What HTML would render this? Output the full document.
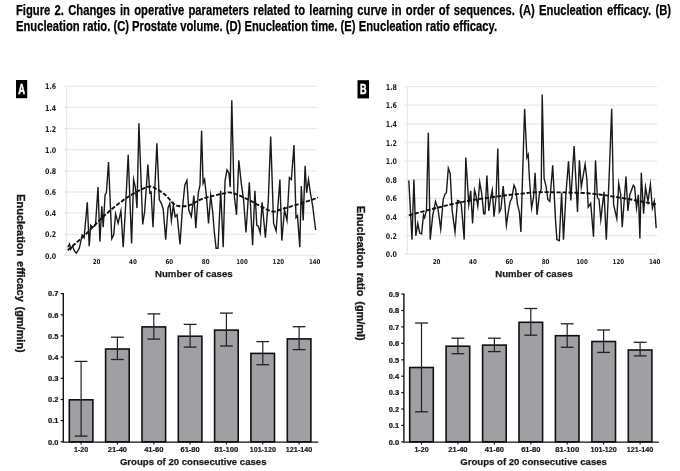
<!DOCTYPE html>
<html><head><meta charset="utf-8"><style>
html,body{margin:0;padding:0;background:#fff;width:680px;height:471px;overflow:hidden;}
.cap{position:absolute;left:16.4px;font:bold 15px/16px "Liberation Sans",sans-serif;color:#000;white-space:nowrap;transform-origin:0 0;-webkit-text-stroke:0.25px #000;}
#c1{top:2px;width:874.4964916839916px;text-align:justify;text-align-last:justify;transform:scaleX(0.7490024330900243);}
#c2{top:18px;transform:scaleX(0.7490024330900243);}
svg{position:absolute;left:0;top:0;}
svg text{font-family:"Liberation Sans",sans-serif;font-weight:bold;fill:#1a1a1a;}
.yl{font-size:7.9px;font-family:'DejaVu Sans',sans-serif !important;}
.xl{font-size:6.6px;font-family:'DejaVu Sans',sans-serif !important;}
.bl{font-size:6.6px;stroke:#1a1a1a;stroke-width:0.22px;}
.bx{font-size:6.9px;stroke:#1a1a1a;stroke-width:0.2px;}
.tt{font-size:9.9px;stroke:#1a1a1a;stroke-width:0.25px;}
.yt{font-size:11.8px;word-spacing:2px;stroke:#1a1a1a;stroke-width:0.35px;}
.pl{font-size:14.2px;fill:#fff !important;stroke:#fff;stroke-width:0.5px;}
</style></head><body>
<div class="cap" id="c1">Figure 2. Changes in operative parameters related to learning curve in order of sequences. (A) Enucleation efficacy. (B)</div>
<div class="cap" id="c2">Enucleation ratio. (C) Prostate volume. (D) Enucleation time. (E) Enucleation ratio efficacy.</div>
<svg width="680" height="471" viewBox="0 0 680 471">
<line x1="64" y1="255.4" x2="317.2" y2="255.4" stroke="#eaeaea" stroke-width="1.3"/>
<text x="56.2" y="258.5" class="yl" text-anchor="end" textLength="11.2" lengthAdjust="spacingAndGlyphs">0.0</text>
<line x1="64" y1="234.3" x2="317.2" y2="234.3" stroke="#eaeaea" stroke-width="1.3"/>
<text x="56.2" y="237.4" class="yl" text-anchor="end" textLength="11.2" lengthAdjust="spacingAndGlyphs">0.2</text>
<line x1="64" y1="213.1" x2="317.2" y2="213.1" stroke="#eaeaea" stroke-width="1.3"/>
<text x="56.2" y="216.2" class="yl" text-anchor="end" textLength="11.2" lengthAdjust="spacingAndGlyphs">0.4</text>
<line x1="64" y1="192.0" x2="317.2" y2="192.0" stroke="#eaeaea" stroke-width="1.3"/>
<text x="56.2" y="195.1" class="yl" text-anchor="end" textLength="11.2" lengthAdjust="spacingAndGlyphs">0.6</text>
<line x1="64" y1="170.8" x2="317.2" y2="170.8" stroke="#eaeaea" stroke-width="1.3"/>
<text x="56.2" y="173.9" class="yl" text-anchor="end" textLength="11.2" lengthAdjust="spacingAndGlyphs">0.8</text>
<line x1="64" y1="149.7" x2="317.2" y2="149.7" stroke="#eaeaea" stroke-width="1.3"/>
<text x="56.2" y="152.8" class="yl" text-anchor="end" textLength="11.2" lengthAdjust="spacingAndGlyphs">1.0</text>
<line x1="64" y1="128.6" x2="317.2" y2="128.6" stroke="#eaeaea" stroke-width="1.3"/>
<text x="56.2" y="131.7" class="yl" text-anchor="end" textLength="11.2" lengthAdjust="spacingAndGlyphs">1.2</text>
<line x1="64" y1="107.4" x2="317.2" y2="107.4" stroke="#eaeaea" stroke-width="1.3"/>
<text x="56.2" y="110.5" class="yl" text-anchor="end" textLength="11.2" lengthAdjust="spacingAndGlyphs">1.4</text>
<line x1="64" y1="86.3" x2="317.2" y2="86.3" stroke="#eaeaea" stroke-width="1.3"/>
<text x="56.2" y="89.4" class="yl" text-anchor="end" textLength="11.2" lengthAdjust="spacingAndGlyphs">1.6</text>
<line x1="66.6" y1="86.3" x2="66.6" y2="255.4" stroke="#eaeaea" stroke-width="1.3"/>
<text x="96.6" y="264.1" class="xl" text-anchor="middle" textLength="7.8" lengthAdjust="spacingAndGlyphs">20</text>
<text x="132.9" y="264.1" class="xl" text-anchor="middle" textLength="7.8" lengthAdjust="spacingAndGlyphs">40</text>
<text x="169.3" y="264.1" class="xl" text-anchor="middle" textLength="7.8" lengthAdjust="spacingAndGlyphs">60</text>
<text x="205.7" y="264.1" class="xl" text-anchor="middle" textLength="7.8" lengthAdjust="spacingAndGlyphs">80</text>
<text x="242.0" y="264.1" class="xl" text-anchor="middle" textLength="11.6" lengthAdjust="spacingAndGlyphs">100</text>
<text x="278.4" y="264.1" class="xl" text-anchor="middle" textLength="11.6" lengthAdjust="spacingAndGlyphs">120</text>
<text x="314.7" y="264.1" class="xl" text-anchor="middle" textLength="11.6" lengthAdjust="spacingAndGlyphs">140</text>
<polyline points="67.8,247.3 69.5,244.0 70.7,249.2 72.5,246.0 74.5,251.0 76.4,253.0 79.3,248.2 82.2,234.9 84.1,237.7 87.3,202.4 89.2,246.3 90.7,225.3 92.7,227.2 95.5,225.3 98.0,187.1 99.9,241.6 101.8,206.2 103.2,227.2 105.1,194.7 106.4,192.8 108.5,162.0 111.8,238.7 113.7,234.9 115.6,213.9 118.1,223.4 120.9,211.0 123.2,247.3 125.5,208.0 128.2,154.7 131.6,243.5 133.6,179.5 135.3,187.0 137.0,208.1 138.9,123.2 142.7,224.4 144.6,212.0 147.9,164.6 149.8,192.8 151.1,192.0 153.0,227.2 156.9,143.2 159.3,199.5 161.3,203.3 163.2,209.0 165.7,239.6 168.0,208.1 169.8,203.3 171.4,220.5 173.3,205.3 175.2,216.7 177.1,214.8 180.0,244.4 182.3,210.0 184.8,185.2 186.9,180.4 188.8,210.0 191.3,216.7 193.9,195.7 195.8,228.2 198.3,192.8 200.0,185.2 201.6,130.8 203.1,183.3 204.6,179.5 206.5,196.7 208.5,223.4 210.7,195.7 212.7,212.0 214.2,231.0 216.1,248.2 218.0,248.2 220.7,190.9 223.2,247.3 225.0,181.0 227.0,170.0 228.9,173.0 230.2,187.1 231.8,100.2 234.0,192.8 236.5,214.8 238.8,160.4 241.3,183.3 243.6,200.0 246.0,232.5 249.3,182.3 252.6,245.3 254.9,190.9 256.8,225.3 258.3,226.2 260.2,232.9 262.1,202.4 265.4,237.7 268.2,202.4 270.7,136.5 273.6,223.4 276.1,231.0 279.9,179.5 281.8,240.6 284.5,210.0 287.0,220.5 289.4,177.5 291.4,179.5 294.0,145.1 296.0,217.6 297.5,215.7 299.8,247.2 301.3,186.1 303.2,220.5 305.1,165.7 306.6,192.8 308.5,179.5 310.4,192.8 312.7,206.2 315.6,230.0" fill="none" stroke="#1a1a1a" stroke-width="1.4" stroke-linejoin="miter" stroke-miterlimit="10"/>
<polyline points="67.8,250.2 69.1,249.1 70.8,247.6 72.9,245.8 75.1,243.8 77.6,241.6 80.1,239.4 82.6,237.1 85.0,234.9 87.4,232.6 89.8,230.2 92.2,227.7 94.7,225.1 97.2,222.5 99.8,219.9 102.4,217.4 105.0,215.0 107.7,212.7 110.4,210.3 113.2,208.0 116.0,205.7 118.8,203.5 121.6,201.4 124.3,199.4 127.0,197.6 129.7,195.9 132.5,194.2 135.3,192.5 138.1,191.0 140.8,189.7 143.3,188.5 145.6,187.6 147.6,186.9 149.3,186.5 150.6,186.5 151.8,186.6 152.8,187.0 153.7,187.4 154.6,188.0 155.5,188.6 156.5,189.1 157.6,189.6 158.7,190.2 159.8,190.9 160.9,191.6 162.0,192.3 163.1,193.1 164.2,194.0 165.3,194.9 166.4,195.9 167.5,197.1 168.7,198.4 169.8,199.7 170.9,201.0 172.0,202.2 173.1,203.3 174.1,204.1 175.1,204.7 176.0,205.2 176.8,205.6 177.7,205.9 178.5,206.0 179.3,206.2 180.2,206.2 181.2,206.3 182.2,206.3 183.2,206.3 184.2,206.3 185.2,206.2 186.3,206.0 187.5,205.8 188.7,205.4 190.0,205.0 191.4,204.4 192.8,203.7 194.3,202.9 195.9,202.0 197.6,201.1 199.3,200.2 201.1,199.4 203.1,198.6 205.3,197.9 207.7,197.2 210.2,196.5 212.9,195.9 215.5,195.3 218.0,194.7 220.2,194.2 222.2,193.8 223.8,193.4 225.1,193.1 226.2,192.8 227.2,192.6 228.1,192.4 229.2,192.4 230.3,192.5 231.8,192.8 233.5,193.3 235.5,193.9 237.6,194.8 239.8,195.7 241.9,196.7 244.1,197.7 246.1,198.6 248.0,199.5 249.7,200.3 251.3,201.2 252.8,202.0 254.2,202.8 255.6,203.6 257.1,204.5 258.5,205.2 260.0,206.0 261.6,206.8 263.2,207.6 264.8,208.5 266.4,209.3 268.1,210.1 269.6,210.7 271.2,211.2 272.6,211.5 273.9,211.6 275.0,211.5 276.0,211.3 277.0,211.0 278.0,210.5 279.2,210.0 280.6,209.5 282.2,209.0 284.1,208.4 286.4,207.8 288.8,207.1 291.3,206.3 293.9,205.6 296.5,204.8 299.0,204.0 301.3,203.3 303.6,202.5 306.0,201.7 308.5,200.9 310.8,200.1 313.1,199.3 315.1,198.6 316.7,198.0 318.0,197.6" fill="none" stroke="#111" stroke-width="1.9" stroke-dasharray="4.3 1.7"/>
<line x1="404.4" y1="254.2" x2="657.1" y2="254.2" stroke="#eaeaea" stroke-width="1.3"/>
<text x="397.0" y="257.3" class="yl" text-anchor="end" textLength="11.2" lengthAdjust="spacingAndGlyphs">0.0</text>
<line x1="404.4" y1="235.6" x2="657.1" y2="235.6" stroke="#eaeaea" stroke-width="1.3"/>
<text x="397.0" y="238.7" class="yl" text-anchor="end" textLength="11.2" lengthAdjust="spacingAndGlyphs">0.2</text>
<line x1="404.4" y1="217.0" x2="657.1" y2="217.0" stroke="#eaeaea" stroke-width="1.3"/>
<text x="397.0" y="220.1" class="yl" text-anchor="end" textLength="11.2" lengthAdjust="spacingAndGlyphs">0.4</text>
<line x1="404.4" y1="198.3" x2="657.1" y2="198.3" stroke="#eaeaea" stroke-width="1.3"/>
<text x="397.0" y="201.4" class="yl" text-anchor="end" textLength="11.2" lengthAdjust="spacingAndGlyphs">0.6</text>
<line x1="404.4" y1="179.7" x2="657.1" y2="179.7" stroke="#eaeaea" stroke-width="1.3"/>
<text x="397.0" y="182.8" class="yl" text-anchor="end" textLength="11.2" lengthAdjust="spacingAndGlyphs">0.8</text>
<line x1="404.4" y1="161.1" x2="657.1" y2="161.1" stroke="#eaeaea" stroke-width="1.3"/>
<text x="397.0" y="164.2" class="yl" text-anchor="end" textLength="11.2" lengthAdjust="spacingAndGlyphs">1.0</text>
<line x1="404.4" y1="142.5" x2="657.1" y2="142.5" stroke="#eaeaea" stroke-width="1.3"/>
<text x="397.0" y="145.6" class="yl" text-anchor="end" textLength="11.2" lengthAdjust="spacingAndGlyphs">1.2</text>
<line x1="404.4" y1="123.8" x2="657.1" y2="123.8" stroke="#eaeaea" stroke-width="1.3"/>
<text x="397.0" y="126.9" class="yl" text-anchor="end" textLength="11.2" lengthAdjust="spacingAndGlyphs">1.4</text>
<line x1="404.4" y1="105.2" x2="657.1" y2="105.2" stroke="#eaeaea" stroke-width="1.3"/>
<text x="397.0" y="108.3" class="yl" text-anchor="end" textLength="11.2" lengthAdjust="spacingAndGlyphs">1.6</text>
<line x1="404.4" y1="86.6" x2="657.1" y2="86.6" stroke="#eaeaea" stroke-width="1.3"/>
<text x="397.0" y="89.7" class="yl" text-anchor="end" textLength="11.2" lengthAdjust="spacingAndGlyphs">1.8</text>
<line x1="407.4" y1="86.6" x2="407.4" y2="254.2" stroke="#eaeaea" stroke-width="1.3"/>
<text x="436.6" y="264.1" class="xl" text-anchor="middle" textLength="7.8" lengthAdjust="spacingAndGlyphs">20</text>
<text x="472.9" y="264.1" class="xl" text-anchor="middle" textLength="7.8" lengthAdjust="spacingAndGlyphs">40</text>
<text x="509.3" y="264.1" class="xl" text-anchor="middle" textLength="7.8" lengthAdjust="spacingAndGlyphs">60</text>
<text x="545.6" y="264.1" class="xl" text-anchor="middle" textLength="7.8" lengthAdjust="spacingAndGlyphs">80</text>
<text x="582.0" y="264.1" class="xl" text-anchor="middle" textLength="11.6" lengthAdjust="spacingAndGlyphs">100</text>
<text x="618.4" y="264.1" class="xl" text-anchor="middle" textLength="11.6" lengthAdjust="spacingAndGlyphs">120</text>
<text x="654.7" y="264.1" class="xl" text-anchor="middle" textLength="11.6" lengthAdjust="spacingAndGlyphs">140</text>
<polyline points="408.8,180.4 412.0,239.6 413.9,179.5 415.8,235.8 417.8,223.4 419.7,233.0 421.6,234.0 423.5,214.8 424.6,217.7 426.5,210.0 428.3,132.7 430.2,239.6 432.7,215.7 435.5,201.4 438.0,209.0 440.7,229.1 443.2,199.5 445.1,193.8 446.4,192.8 448.3,168.1 450.2,173.7 452.1,210.0 455.0,232.0 457.5,200.5 459.8,201.4 461.3,204.3 464.2,239.6 465.8,157.6 468.8,204.3 470.7,190.9 472.6,223.4 474.5,190.0 475.8,194.7 477.8,206.2 479.7,182.3 481.6,192.8 483.7,213.9 485.0,213.9 486.9,175.6 488.8,211.0 490.7,197.6 492.3,190.0 494.0,216.7 496.1,196.7 497.8,148.6 499.3,212.0 500.9,209.0 503.2,186.1 504.6,200.5 506.4,225.3 508.3,212.0 510.2,201.4 511.8,198.6 514.0,185.2 515.6,189.0 517.5,204.3 519.4,212.0 520.9,232.0 524.6,108.8 526.9,157.6 528.2,154.7 529.5,180.0 531.6,208.1 533.6,196.7 535.1,172.8 537.0,214.8 539.3,194.7 541.2,189.0 542.2,94.5 544.1,178.5 546.0,186.1 547.9,199.5 549.8,201.4 552.7,165.2 555.5,219.6 556.9,239.6 559.3,240.6 561.6,192.8 563.5,239.6 566.0,192.8 568.5,161.4 570.8,200.5 574.1,146.1 577.5,212.0 579.4,160.4 581.3,187.1 585.1,164.2 586.9,179.5 588.2,207.1 590.7,203.3 593.5,236.7 595.5,160.4 597.4,197.6 599.0,199.5 600.8,219.6 604.0,191.9 606.3,239.6 609.0,180.0 611.7,108.8 613.6,204.3 616.8,218.6 618.7,183.3 620.7,194.7 622.2,227.2 626.0,176.6 627.9,211.0 629.8,194.7 633.3,185.2 634.6,187.1 636.5,208.1 638.4,194.7 639.9,238.6 641.3,172.8 643.6,213.8 645.5,187.1 648.0,201.4 650.4,184.2 652.4,208.1 654.3,201.4 656.2,228.1" fill="none" stroke="#1a1a1a" stroke-width="1.4" stroke-linejoin="miter" stroke-miterlimit="10"/>
<polyline points="408.8,215.3 413.0,214.2 418.5,212.7 425.1,210.9 432.4,209.0 440.2,207.0 448.3,205.0 456.3,203.2 464.0,201.6 471.8,200.2 480.2,198.9 488.9,197.6 497.7,196.4 506.2,195.3 514.3,194.4 521.7,193.6 528.0,192.9 533.2,192.4 537.4,192.2 541.0,192.1 544.0,192.1 546.8,192.1 549.6,192.2 552.6,192.3 556.0,192.4 559.8,192.4 563.7,192.4 567.7,192.5 571.8,192.6 575.8,192.7 579.9,192.8 584.0,193.0 588.0,193.3 592.0,193.7 595.9,194.1 599.8,194.5 603.7,195.1 607.6,195.6 611.6,196.3 615.8,196.9 620.0,197.6 624.6,198.4 629.8,199.3 635.1,200.3 640.5,201.3 645.6,202.3 650.2,203.2 654.1,203.9 657.0,204.5" fill="none" stroke="#111" stroke-width="1.9" stroke-dasharray="4.3 1.7"/>
<line x1="60.7" y1="441.8" x2="63.3" y2="441.8" stroke="#111" stroke-width="1.2"/>
<text x="58.5" y="444.6" class="bl" text-anchor="end" textLength="10.4" lengthAdjust="spacingAndGlyphs">0.0</text>
<line x1="60.7" y1="420.6" x2="63.3" y2="420.6" stroke="#111" stroke-width="1.2"/>
<text x="58.5" y="423.4" class="bl" text-anchor="end" textLength="10.4" lengthAdjust="spacingAndGlyphs">0.1</text>
<line x1="60.7" y1="399.5" x2="63.3" y2="399.5" stroke="#111" stroke-width="1.2"/>
<text x="58.5" y="402.3" class="bl" text-anchor="end" textLength="10.4" lengthAdjust="spacingAndGlyphs">0.2</text>
<line x1="60.7" y1="378.3" x2="63.3" y2="378.3" stroke="#111" stroke-width="1.2"/>
<text x="58.5" y="381.1" class="bl" text-anchor="end" textLength="10.4" lengthAdjust="spacingAndGlyphs">0.3</text>
<line x1="60.7" y1="357.1" x2="63.3" y2="357.1" stroke="#111" stroke-width="1.2"/>
<text x="58.5" y="359.9" class="bl" text-anchor="end" textLength="10.4" lengthAdjust="spacingAndGlyphs">0.4</text>
<line x1="60.7" y1="335.9" x2="63.3" y2="335.9" stroke="#111" stroke-width="1.2"/>
<text x="58.5" y="338.8" class="bl" text-anchor="end" textLength="10.4" lengthAdjust="spacingAndGlyphs">0.5</text>
<line x1="60.7" y1="314.8" x2="63.3" y2="314.8" stroke="#111" stroke-width="1.2"/>
<text x="58.5" y="317.6" class="bl" text-anchor="end" textLength="10.4" lengthAdjust="spacingAndGlyphs">0.6</text>
<line x1="60.7" y1="293.6" x2="63.3" y2="293.6" stroke="#111" stroke-width="1.2"/>
<text x="58.5" y="296.4" class="bl" text-anchor="end" textLength="10.4" lengthAdjust="spacingAndGlyphs">0.7</text>
<rect x="69.3" y="399.8" width="23.6" height="42.0" fill="#a09fa4" stroke="#111" stroke-width="1.6"/>
<line x1="81.1" y1="361.4" x2="81.1" y2="436.1" stroke="#222" stroke-width="1.2"/>
<line x1="74.7" y1="361.4" x2="87.5" y2="361.4" stroke="#222" stroke-width="1.3"/>
<line x1="74.7" y1="436.1" x2="87.5" y2="436.1" stroke="#222" stroke-width="1.3"/>
<line x1="81.1" y1="441.8" x2="81.1" y2="444.6" stroke="#111" stroke-width="1.1"/>
<text x="81.1" y="451.5" class="bx" text-anchor="middle" textLength="14.2" lengthAdjust="spacingAndGlyphs">1-20</text>
<rect x="105.6" y="349.0" width="23.6" height="92.8" fill="#a09fa4" stroke="#111" stroke-width="1.6"/>
<line x1="117.4" y1="337.2" x2="117.4" y2="359.5" stroke="#222" stroke-width="1.2"/>
<line x1="111.0" y1="337.2" x2="123.8" y2="337.2" stroke="#222" stroke-width="1.3"/>
<line x1="111.0" y1="359.5" x2="123.8" y2="359.5" stroke="#222" stroke-width="1.3"/>
<line x1="117.4" y1="441.8" x2="117.4" y2="444.6" stroke="#111" stroke-width="1.1"/>
<text x="117.4" y="451.5" class="bx" text-anchor="middle" textLength="19.3" lengthAdjust="spacingAndGlyphs">21-40</text>
<rect x="142.0" y="326.9" width="23.6" height="114.9" fill="#a09fa4" stroke="#111" stroke-width="1.6"/>
<line x1="153.8" y1="313.9" x2="153.8" y2="339.1" stroke="#222" stroke-width="1.2"/>
<line x1="147.4" y1="313.9" x2="160.2" y2="313.9" stroke="#222" stroke-width="1.3"/>
<line x1="147.4" y1="339.1" x2="160.2" y2="339.1" stroke="#222" stroke-width="1.3"/>
<line x1="153.8" y1="441.8" x2="153.8" y2="444.6" stroke="#111" stroke-width="1.1"/>
<text x="153.8" y="451.5" class="bx" text-anchor="middle" textLength="19.3" lengthAdjust="spacingAndGlyphs">41-60</text>
<rect x="178.3" y="336.2" width="23.6" height="105.6" fill="#a09fa4" stroke="#111" stroke-width="1.6"/>
<line x1="190.1" y1="324.4" x2="190.1" y2="347.1" stroke="#222" stroke-width="1.2"/>
<line x1="183.7" y1="324.4" x2="196.5" y2="324.4" stroke="#222" stroke-width="1.3"/>
<line x1="183.7" y1="347.1" x2="196.5" y2="347.1" stroke="#222" stroke-width="1.3"/>
<line x1="190.1" y1="441.8" x2="190.1" y2="444.6" stroke="#111" stroke-width="1.1"/>
<text x="190.1" y="451.5" class="bx" text-anchor="middle" textLength="19.3" lengthAdjust="spacingAndGlyphs">61-80</text>
<rect x="214.6" y="330.1" width="23.6" height="111.7" fill="#a09fa4" stroke="#111" stroke-width="1.6"/>
<line x1="226.4" y1="313.1" x2="226.4" y2="346.0" stroke="#222" stroke-width="1.2"/>
<line x1="220.0" y1="313.1" x2="232.8" y2="313.1" stroke="#222" stroke-width="1.3"/>
<line x1="220.0" y1="346.0" x2="232.8" y2="346.0" stroke="#222" stroke-width="1.3"/>
<line x1="226.4" y1="441.8" x2="226.4" y2="444.6" stroke="#111" stroke-width="1.1"/>
<text x="226.4" y="451.5" class="bx" text-anchor="middle" textLength="24" lengthAdjust="spacingAndGlyphs">81-100</text>
<rect x="250.9" y="353.4" width="23.6" height="88.4" fill="#a09fa4" stroke="#111" stroke-width="1.6"/>
<line x1="262.8" y1="341.6" x2="262.8" y2="364.7" stroke="#222" stroke-width="1.2"/>
<line x1="256.4" y1="341.6" x2="269.1" y2="341.6" stroke="#222" stroke-width="1.3"/>
<line x1="256.4" y1="364.7" x2="269.1" y2="364.7" stroke="#222" stroke-width="1.3"/>
<line x1="262.8" y1="441.8" x2="262.8" y2="444.6" stroke="#111" stroke-width="1.1"/>
<text x="262.8" y="451.5" class="bx" text-anchor="middle" textLength="26.2" lengthAdjust="spacingAndGlyphs">101-120</text>
<rect x="287.3" y="338.9" width="23.6" height="102.9" fill="#a09fa4" stroke="#111" stroke-width="1.6"/>
<line x1="299.1" y1="326.7" x2="299.1" y2="349.6" stroke="#222" stroke-width="1.2"/>
<line x1="292.7" y1="326.7" x2="305.5" y2="326.7" stroke="#222" stroke-width="1.3"/>
<line x1="292.7" y1="349.6" x2="305.5" y2="349.6" stroke="#222" stroke-width="1.3"/>
<line x1="299.1" y1="441.8" x2="299.1" y2="444.6" stroke="#111" stroke-width="1.1"/>
<text x="299.1" y="451.5" class="bx" text-anchor="middle" textLength="26.5" lengthAdjust="spacingAndGlyphs">121-140</text>
<line x1="63.3" y1="293.0" x2="63.3" y2="441.8" stroke="#111" stroke-width="1.4"/>
<line x1="62.6" y1="442.1" x2="318.3" y2="442.1" stroke="#111" stroke-width="1.4"/>
<line x1="401.3" y1="441.8" x2="403.9" y2="441.8" stroke="#111" stroke-width="1.2"/>
<text x="399.1" y="444.6" class="bl" text-anchor="end" textLength="10.4" lengthAdjust="spacingAndGlyphs">0.0</text>
<line x1="401.3" y1="425.4" x2="403.9" y2="425.4" stroke="#111" stroke-width="1.2"/>
<text x="399.1" y="428.2" class="bl" text-anchor="end" textLength="10.4" lengthAdjust="spacingAndGlyphs">0.1</text>
<line x1="401.3" y1="409.0" x2="403.9" y2="409.0" stroke="#111" stroke-width="1.2"/>
<text x="399.1" y="411.8" class="bl" text-anchor="end" textLength="10.4" lengthAdjust="spacingAndGlyphs">0.2</text>
<line x1="401.3" y1="392.6" x2="403.9" y2="392.6" stroke="#111" stroke-width="1.2"/>
<text x="399.1" y="395.4" class="bl" text-anchor="end" textLength="10.4" lengthAdjust="spacingAndGlyphs">0.3</text>
<line x1="401.3" y1="376.2" x2="403.9" y2="376.2" stroke="#111" stroke-width="1.2"/>
<text x="399.1" y="379.0" class="bl" text-anchor="end" textLength="10.4" lengthAdjust="spacingAndGlyphs">0.4</text>
<line x1="401.3" y1="359.8" x2="403.9" y2="359.8" stroke="#111" stroke-width="1.2"/>
<text x="399.1" y="362.6" class="bl" text-anchor="end" textLength="10.4" lengthAdjust="spacingAndGlyphs">0.5</text>
<line x1="401.3" y1="343.3" x2="403.9" y2="343.3" stroke="#111" stroke-width="1.2"/>
<text x="399.1" y="346.1" class="bl" text-anchor="end" textLength="10.4" lengthAdjust="spacingAndGlyphs">0.6</text>
<line x1="401.3" y1="326.9" x2="403.9" y2="326.9" stroke="#111" stroke-width="1.2"/>
<text x="399.1" y="329.7" class="bl" text-anchor="end" textLength="10.4" lengthAdjust="spacingAndGlyphs">0.7</text>
<line x1="401.3" y1="310.5" x2="403.9" y2="310.5" stroke="#111" stroke-width="1.2"/>
<text x="399.1" y="313.3" class="bl" text-anchor="end" textLength="10.4" lengthAdjust="spacingAndGlyphs">0.8</text>
<line x1="401.3" y1="294.1" x2="403.9" y2="294.1" stroke="#111" stroke-width="1.2"/>
<text x="399.1" y="296.9" class="bl" text-anchor="end" textLength="10.4" lengthAdjust="spacingAndGlyphs">0.9</text>
<rect x="409.7" y="367.5" width="23.6" height="74.3" fill="#a09fa4" stroke="#111" stroke-width="1.6"/>
<line x1="421.5" y1="323.0" x2="421.5" y2="411.8" stroke="#222" stroke-width="1.2"/>
<line x1="415.1" y1="323.0" x2="427.9" y2="323.0" stroke="#222" stroke-width="1.3"/>
<line x1="415.1" y1="411.8" x2="427.9" y2="411.8" stroke="#222" stroke-width="1.3"/>
<line x1="421.5" y1="441.8" x2="421.5" y2="444.6" stroke="#111" stroke-width="1.1"/>
<text x="421.5" y="451.5" class="bx" text-anchor="middle" textLength="14.2" lengthAdjust="spacingAndGlyphs">1-20</text>
<rect x="446.1" y="346.2" width="23.6" height="95.6" fill="#a09fa4" stroke="#111" stroke-width="1.6"/>
<line x1="457.9" y1="338.2" x2="457.9" y2="353.7" stroke="#222" stroke-width="1.2"/>
<line x1="451.5" y1="338.2" x2="464.3" y2="338.2" stroke="#222" stroke-width="1.3"/>
<line x1="451.5" y1="353.7" x2="464.3" y2="353.7" stroke="#222" stroke-width="1.3"/>
<line x1="457.9" y1="441.8" x2="457.9" y2="444.6" stroke="#111" stroke-width="1.1"/>
<text x="457.9" y="451.5" class="bx" text-anchor="middle" textLength="19.3" lengthAdjust="spacingAndGlyphs">21-40</text>
<rect x="482.6" y="345.1" width="23.6" height="96.7" fill="#a09fa4" stroke="#111" stroke-width="1.6"/>
<line x1="494.4" y1="338.2" x2="494.4" y2="351.6" stroke="#222" stroke-width="1.2"/>
<line x1="488.0" y1="338.2" x2="500.8" y2="338.2" stroke="#222" stroke-width="1.3"/>
<line x1="488.0" y1="351.6" x2="500.8" y2="351.6" stroke="#222" stroke-width="1.3"/>
<line x1="494.4" y1="441.8" x2="494.4" y2="444.6" stroke="#111" stroke-width="1.1"/>
<text x="494.4" y="451.5" class="bx" text-anchor="middle" textLength="19.3" lengthAdjust="spacingAndGlyphs">41-60</text>
<rect x="519.0" y="322.3" width="23.6" height="119.5" fill="#a09fa4" stroke="#111" stroke-width="1.6"/>
<line x1="530.8" y1="308.5" x2="530.8" y2="335.2" stroke="#222" stroke-width="1.2"/>
<line x1="524.4" y1="308.5" x2="537.2" y2="308.5" stroke="#222" stroke-width="1.3"/>
<line x1="524.4" y1="335.2" x2="537.2" y2="335.2" stroke="#222" stroke-width="1.3"/>
<line x1="530.8" y1="441.8" x2="530.8" y2="444.6" stroke="#111" stroke-width="1.1"/>
<text x="530.8" y="451.5" class="bx" text-anchor="middle" textLength="19.3" lengthAdjust="spacingAndGlyphs">61-80</text>
<rect x="555.4" y="335.7" width="23.6" height="106.1" fill="#a09fa4" stroke="#111" stroke-width="1.6"/>
<line x1="567.2" y1="323.8" x2="567.2" y2="347.3" stroke="#222" stroke-width="1.2"/>
<line x1="560.8" y1="323.8" x2="573.6" y2="323.8" stroke="#222" stroke-width="1.3"/>
<line x1="560.8" y1="347.3" x2="573.6" y2="347.3" stroke="#222" stroke-width="1.3"/>
<line x1="567.2" y1="441.8" x2="567.2" y2="444.6" stroke="#111" stroke-width="1.1"/>
<text x="567.2" y="451.5" class="bx" text-anchor="middle" textLength="24" lengthAdjust="spacingAndGlyphs">81-100</text>
<rect x="591.9" y="341.5" width="23.6" height="100.3" fill="#a09fa4" stroke="#111" stroke-width="1.6"/>
<line x1="603.6" y1="330.0" x2="603.6" y2="352.4" stroke="#222" stroke-width="1.2"/>
<line x1="597.2" y1="330.0" x2="610.0" y2="330.0" stroke="#222" stroke-width="1.3"/>
<line x1="597.2" y1="352.4" x2="610.0" y2="352.4" stroke="#222" stroke-width="1.3"/>
<line x1="603.6" y1="441.8" x2="603.6" y2="444.6" stroke="#111" stroke-width="1.1"/>
<text x="603.6" y="451.5" class="bx" text-anchor="middle" textLength="26.2" lengthAdjust="spacingAndGlyphs">101-120</text>
<rect x="628.3" y="350.0" width="23.6" height="91.8" fill="#a09fa4" stroke="#111" stroke-width="1.6"/>
<line x1="640.1" y1="342.3" x2="640.1" y2="355.9" stroke="#222" stroke-width="1.2"/>
<line x1="633.7" y1="342.3" x2="646.5" y2="342.3" stroke="#222" stroke-width="1.3"/>
<line x1="633.7" y1="355.9" x2="646.5" y2="355.9" stroke="#222" stroke-width="1.3"/>
<line x1="640.1" y1="441.8" x2="640.1" y2="444.6" stroke="#111" stroke-width="1.1"/>
<text x="640.1" y="451.5" class="bx" text-anchor="middle" textLength="26.5" lengthAdjust="spacingAndGlyphs">121-140</text>
<line x1="403.9" y1="293.5" x2="403.9" y2="441.8" stroke="#111" stroke-width="1.4"/>
<line x1="403.2" y1="442.1" x2="658.9" y2="442.1" stroke="#111" stroke-width="1.4"/>
<text x="155" y="276.8" class="tt" textLength="77.6" lengthAdjust="spacingAndGlyphs">Number of cases</text>
<text x="495.2" y="276.8" class="tt" textLength="77.6" lengthAdjust="spacingAndGlyphs">Number of cases</text>
<text x="119.9" y="464.7" class="tt" textLength="146.6" lengthAdjust="spacingAndGlyphs">Groups of 20 consecutive cases</text>
<text x="460.3" y="464.7" class="tt" textLength="146.6" lengthAdjust="spacingAndGlyphs">Groups of 20 consecutive cases</text>
<text transform="translate(17.2,194.3) rotate(90)" x="0" y="0" class="yt" textLength="158.4" lengthAdjust="spacingAndGlyphs">Enucleation efficacy (gm/min)</text>
<text transform="translate(357.0,205.9) rotate(90)" x="0" y="0" class="yt" textLength="134.8" lengthAdjust="spacingAndGlyphs">Enucleation ratio (gm/ml)</text>
<rect x="16" y="80" width="11.2" height="18.2" fill="#000"/>
<text x="21.6" y="93.6" class="pl" text-anchor="middle" textLength="6.8" lengthAdjust="spacingAndGlyphs">A</text>
<rect x="357.5" y="80.2" width="11.5" height="18.2" fill="#000"/>
<text x="363.3" y="93.8" class="pl" text-anchor="middle" textLength="6.6" lengthAdjust="spacingAndGlyphs">B</text>
</svg>
</body></html>
